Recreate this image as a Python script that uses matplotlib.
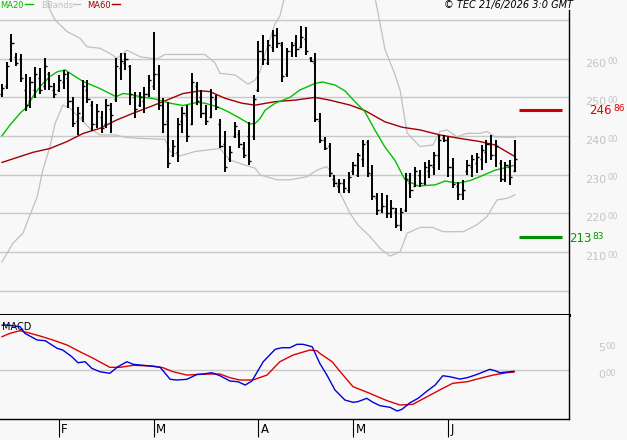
import matplotlib
matplotlib.use("Agg")
import matplotlib.pyplot as plt
import numpy as np
from matplotlib import transforms

# ---- data (bar index = trading day) ----
highs = [253.5, 259.1, 266.3, 261.4, 261.1, 256.0, 255.4, 257.9, 257.5, 260.1,
         256.6, 253.6, 255.8, 257.1, 256.6, 250.2, 247.6, 254.5, 254.5, 249.1,
         248.2, 246.5, 249.6, 248.5, 260.1, 261.4, 261.4, 258.4, 251.5, 251.5,
         252.8, 255.8, 267.0, 258.4, 249.8, 248.9, 239.0, 244.6, 247.6, 248.0,
         256.2, 254.1, 251.9, 248.0, 252.2, 250.6, 244.5, 241.2, 237.5, 243.7,
         241.5, 238.6, 243.7, 250.6, 264.6, 266.1, 264.8, 267.4, 267.9, 264.4,
         262.7, 264.4, 266.1, 268.4, 268.3, 260.5, 261.6, 245.9, 239.8, 238.1,
         230.0, 228.8, 228.8, 230.8, 233.4, 235.6, 239.0, 239.0, 232.5, 225.2,
         225.2, 224.8, 223.5, 221.3, 221.3, 230.5, 230.4, 232.1, 231.2, 233.4,
         233.8, 236.0, 240.3, 240.3, 239.8, 234.3, 228.2, 228.7, 233.8, 235.1,
         235.6, 237.7, 239.0, 240.3, 239.0, 233.8, 233.4, 233.8, 239.0]
lows = [250.1, 252.3, 259.2, 258.2, 254.1, 246.5, 247.2, 249.9, 251.0, 251.9,
        251.9, 249.9, 251.5, 252.3, 247.2, 242.4, 240.3, 243.7, 248.5, 241.2,
        242.0, 240.7, 242.0, 240.7, 248.9, 254.5, 257.1, 248.0, 244.8, 247.6,
        245.9, 250.2, 251.9, 246.7, 240.7, 231.8, 234.7, 233.4, 240.7, 238.6,
        242.9, 248.0, 244.6, 242.9, 244.6, 246.7, 236.8, 230.8, 233.4, 239.4,
        236.8, 234.3, 232.5, 239.0, 251.5, 258.4, 258.4, 261.8, 262.7, 254.1,
        255.4, 260.5, 260.5, 262.7, 261.0, 259.2, 243.7, 238.1, 236.4, 229.5,
        226.9, 225.2, 225.2, 225.2, 230.0, 229.5, 232.1, 229.5, 223.5, 219.6,
        220.0, 218.8, 218.8, 216.2, 215.5, 220.5, 223.9, 226.9, 226.9, 227.4,
        229.1, 230.0, 231.2, 238.6, 229.5, 226.5, 223.5, 223.5, 230.0, 229.5,
        230.4, 231.2, 233.0, 233.8, 232.1, 228.2, 228.2, 227.4, 230.8]
opens = [251.0, 253.0, 260.0, 260.5, 260.0, 252.0, 249.0, 252.0, 255.0, 253.0,
         256.0, 252.0, 252.0, 254.0, 255.0, 249.0, 244.0, 245.0, 252.0, 248.0,
         243.0, 245.0, 243.0, 247.0, 249.5, 257.5, 259.0, 258.0, 250.0, 248.0,
         249.0, 251.0, 253.0, 256.0, 248.0, 244.0, 235.0, 236.0, 244.0, 245.5,
         243.0, 253.0, 250.0, 246.0, 245.0, 249.5, 243.0, 238.0, 234.0, 240.0,
         240.5, 237.0, 240.0, 240.0, 252.0, 262.0, 259.0, 263.0, 266.0, 263.5,
         256.0, 262.0, 264.0, 263.0, 265.0, 260.2, 259.0, 244.0, 239.0, 237.5,
         229.0, 227.0, 228.0, 226.0, 231.0, 230.0, 234.0, 238.5, 230.0, 224.0,
         221.0, 222.0, 220.0, 220.5, 217.0, 221.0, 228.0, 227.0, 230.0, 228.0,
         231.0, 232.0, 235.0, 239.5, 239.0, 232.0, 227.0, 225.0, 231.0, 232.0,
         233.0, 234.0, 236.0, 238.0, 235.0, 233.0, 229.0, 232.0, 231.0]
closes = [252.5, 258.0, 264.0, 259.0, 255.0, 248.0, 254.0, 256.0, 252.0, 258.0,
          253.0, 251.0, 254.5, 256.0, 249.0, 243.5, 246.0, 253.0, 249.5, 243.0,
          246.5, 242.0, 248.0, 245.5, 258.0, 259.5, 260.0, 251.0, 247.0, 250.0,
          251.0, 254.5, 256.0, 248.0, 243.0, 233.0, 237.5, 243.0, 246.0, 240.0,
          254.0, 249.0, 246.0, 244.0, 250.0, 247.5, 237.5, 232.0, 236.0, 242.5,
          238.0, 235.0, 233.5, 249.5, 262.0, 260.0, 263.5, 266.0, 264.0, 255.5,
          262.0, 263.5, 262.5, 265.5, 262.0, 259.5, 244.5, 239.0, 237.0, 230.5,
          228.0, 228.0, 226.5, 229.5, 232.5, 235.0, 238.0, 230.5, 224.5, 221.0,
          222.0, 220.0, 221.5, 217.0, 220.5, 229.0, 226.0, 231.0, 228.0, 232.0,
          232.5, 235.0, 239.0, 239.0, 232.0, 227.5, 225.0, 226.0, 232.5, 234.0,
          234.5, 236.5, 238.0, 235.0, 237.5, 229.0, 232.5, 229.5, 234.0]

ma60_x = [0, 6.5, 10.1, 13.7, 17.1, 20.6, 24.2, 27.6, 31.2, 34.7, 38.1, 41.7,
          43.8, 46.9, 50.5, 53.3, 57.5, 61.7, 65.9, 69, 73.3, 76.4, 80.6, 84.2,
          88, 92.2, 96.4, 100.6, 103.8, 105.9, 108]
ma60_y = [233.2, 235.8, 236.8, 238.6, 240.7, 242.0, 244.2, 245.9, 247.6, 249.3,
          251.0, 251.7, 251.5, 249.8, 248.5, 248.0, 248.9, 249.3, 250.0, 249.3,
          248.0, 246.6, 243.7, 242.3, 241.6, 240.3, 239.4, 238.6, 237.7, 236.2,
          234.7]

ma20_x = [0, 1.7, 3.8, 5.3, 6.5, 8, 10.1, 11.6, 13.3, 14.9, 17.1, 20.6, 24,
          25.5, 26.9, 29.1, 32.2, 35.4, 38.1, 41.1, 42.7, 45.3, 47.6, 50.1,
          52.2, 53.3, 54.3, 55.4, 57.5, 60.6, 62.7, 65.9, 67.4, 70.1, 72.2,
          74.3, 76.4, 78.5, 80.6, 82.7, 84.8, 87.6, 91.2, 93.3, 96, 98.5, 100.6,
          103.8, 105.9, 108]
ma20_y = [240.1, 242.9, 245.9, 247.6, 250.2, 252.8, 255.4, 256.6, 257.1, 255.8,
          254.1, 252.3, 250.2, 251.0, 250.8, 250.2, 249.6, 248.5, 247.9, 248.7,
          248.5, 247.6, 246.3, 244.6, 243.1, 243.3, 244.5, 246.7, 248.5, 250.0,
          251.9, 253.6, 254.0, 253.2, 251.7, 248.9, 246.3, 241.6, 237.2, 233.8,
          228.8, 227.1, 227.4, 228.4, 227.8, 228.5, 229.5, 231.2, 231.8, 232.5]

bb_up_x = [0, 5, 9.6, 10.1, 11.2, 13.7, 16.4, 17.9, 20.6, 22.7, 24.2, 26.3,
           29.1, 32.6, 34.3, 37.5, 42.7, 44.8, 45.9, 49.1, 51.8, 53.3, 54.3,
           55.4, 57.5, 58.5, 59.5, 61, 77, 78.5, 79.3, 80.6, 82.7, 83.8, 85.3,
           88, 90.7, 92.2, 93.7, 95.8, 97.9, 100.6, 102.1, 103.8, 108]
bb_up_y = [285.0, 282.0, 275.5, 272.6, 270.0, 267.0, 265.3, 263.1, 262.7,
           261.4, 260.1, 262.2, 260.5, 259.9, 261.1, 261.1, 261.1, 259.0, 256.2,
           255.8, 253.4, 254.5, 256.6, 261.4, 269.1, 271.0, 276.0, 282.0, 282.0,
           276.0, 271.0, 262.5, 256.0, 251.9, 240.8, 237.3, 237.7, 241.2, 241.6,
           239.8, 240.7, 240.7, 241.2, 239.8, 239.7]

bb_lo_x = [0, 2.3, 4.4, 5.9, 7.4, 8.6, 10.1, 11.2, 12.8, 14.3, 16.4, 18.5,
           20.6, 23.8, 25.9, 29.1, 33.3, 34.3, 35.4, 37.5, 40.6, 45.9, 48,
           51.2, 53.3, 54.3, 57.9, 60.6, 64.2, 66.3, 67.4, 68.4, 69.7, 71.2,
           73.3, 74.9, 77.5, 79.6, 81.7, 83.8, 85.3, 88, 90.7, 92.8, 97.1, 100,
           102.1, 104.2, 106.3, 108]
bb_lo_y = [207.5, 212.3, 214.9, 219.6, 224.3, 231.2, 237.3, 243.3, 248.0,
           247.2, 244.6, 242.0, 240.3, 240.3, 239.7, 239.4, 239.2, 239.2, 236.0,
           234.9, 236.0, 236.8, 233.8, 232.5, 231.7, 230.0, 228.7, 228.7, 229.5,
           231.2, 231.7, 232.1, 230.0, 225.2, 220.0, 217.1, 214.0, 211.0, 209.0,
           210.1, 214.9, 216.4, 216.4, 215.3, 215.3, 217.1, 219.2, 223.5, 223.9,
           224.8]

macd_x = [0, 1.05, 3.8, 4.8, 7.4, 9.1, 11.6, 12.8, 14.7, 16, 17.5, 18.9, 20.6,
          22.7, 24.4, 26.3, 27.6, 31.2, 33.3, 35.4, 36.8, 38.9, 41.1, 42.3,
          44.2, 45.9, 48, 49.7, 51.2, 52.6, 55, 57.5, 58.9, 60.6, 62.1, 63.4,
          65.3, 66.9, 68.4, 70.1, 72.2, 73.9, 74.9, 76.8, 78.1, 79.6, 81.7,
          83.2, 84.2, 85.9, 87.6, 89.5, 91.2, 92.8, 94.3, 96.4, 97.9, 99.2,
          100.6, 102.7, 103.8, 104.8, 106.3, 107.8]
macd_y = [8.3, 8.33, 8.02, 6.8, 5.56, 5.43, 4.02, 3.7, 2.46, 1.35, 1.54, 0.31,
          -0.31, -0.61, 0.61, 1.54, 1.06, 0.74, 0.5, -1.72, -1.85, -1.72, -0.8,
          -0.74, -0.5, -1.06, -2.04, -2.17, -2.78, -2.04, 1.54, 3.83, 4.13,
          4.13, 4.76, 4.76, 4.31, 1.24, -0.93, -3.7, -5.56, -5.98, -5.87, -5.24,
          -5.98, -6.61, -6.91, -7.59, -7.28, -6.06, -5.24, -3.89, -2.78, -1.06,
          -1.24, -1.67, -1.43, -1.06, -0.61, 0.13, -0.13, -0.5, -0.37, -0.24]

signal_x = [0, 1.7, 3.8, 5.5, 8, 10.7, 13.7, 16.4, 19.2, 22.7, 24.8, 27.6,
            31.8, 33.9, 36, 38.9, 43.2, 45.9, 48, 50.1, 52.8, 55.8, 58.5, 61.3,
            64.8, 66.3, 66.9, 69.5, 71.2, 73.9, 77.1, 81.1, 83.8, 86.5, 89.5,
            92.8, 94.9, 97.9, 100.6, 103.4, 106.3, 107.8]
signal_y = [6.17, 6.8, 7.28, 6.91, 6.3, 5.56, 4.63, 3.39, 2.17, 0.5, 0.5, 0.87,
            0.74, 0.43, -0.31, -0.93, -0.74, -0.74, -1.43, -1.85, -1.85, -0.93,
            1.54, 2.78, 3.7, 3.57, 3.09, 1.54, -0.31, -3.09, -4.2, -5.69, -6.48,
            -6.35, -4.94, -3.39, -2.46, -2.17, -1.54, -0.93, -0.5, -0.37]

price_grid = [270, 260, 250, 240, 230, 220, 210, 200]
price_labels = [260, 250, 240, 230, 220, 210]
macd_labels = [5, 0]
month_idx = [12, 32, 54, 74, 94]
month_names = ["F", "M", "A", "M", "J"]
resistance = 246.86
support = 213.83

# ---- style ----
BG = "#f8f8f8"
GRID = "#c8c8c8"
LBL = "#c4c4c4"
GREEN = "#00c000"
DRED = "#a00000"
BAND = "#c0c0c0"

W, H = 627, 440
fig = plt.figure(figsize=(W / 100, H / 100), dpi=100, facecolor=BG)


def fx(px):
    return px / W


def fy(py):
    return 1 - py / H


ax1 = fig.add_axes([0, fy(315), fx(569), 315 / H])
ax2 = fig.add_axes([0, fy(419), fx(569), 104 / H])

for ax in (ax1, ax2):
    ax.set_facecolor(BG)
    ax.set_xlim(-0.42, 119.37)
    ax.set_yticks([])
    ax.spines["left"].set_visible(False)
    ax.spines["top"].set_visible(False)
    ax.spines["right"].set_linewidth(1.0)

ax1.set_ylim(193.77, 275.17)
ax2.set_ylim(-9.07, 10.19)
ax1.set_xticks([])
ax1.spines["bottom"].set_linewidth(2.2)
ax1.spines["right"].set_bounds(193.77, 272.6)
ax2.spines["bottom"].set_linewidth(1.0)

# grid
for g in price_grid:
    ax1.axhline(g, color=GRID, lw=1.0, zorder=1)
ax2.axhline(0, color=GRID, lw=1.0, zorder=1)

# indicators
ax1.plot(bb_up_x, bb_up_y, color=BAND, lw=0.9, zorder=2, clip_on=False)
ax1.plot(bb_lo_x, bb_lo_y, color=BAND, lw=0.9, zorder=2)
ax1.plot(ma60_x, ma60_y, color=DRED, lw=1.0, zorder=3)
ax1.plot(ma20_x, ma20_y, color=GREEN, lw=1.0, zorder=3)

# OHLC bars
x = np.arange(len(highs))
ax1.vlines(x, lows, highs, color="black", lw=1.4, zorder=4)
ax1.hlines(opens, x - 0.45, x, color="black", lw=1.0, zorder=4)
ax1.hlines(closes, x, x + 0.45, color="black", lw=1.0, zorder=4)

# support / resistance markers
ax1.hlines(resistance, 108.8, 117.9, color="#cc0000", lw=2.2, zorder=4)
ax1.hlines(support, 108.8, 117.9, color="#009000", lw=2.2, zorder=4)

# price labels on the right
ptrans = transforms.blended_transform_factory(fig.transFigure, ax1.transData)
big_t = transforms.offset_copy(ptrans, fig=fig, x=0, y=-5, units="dots")
small_t = transforms.offset_copy(ptrans, fig=fig, x=0, y=-3, units="dots")
for p in price_labels:
    ax1.text(fx(606), p, f"{p}", transform=big_t, ha="right", va="center",
             fontsize=8, color=LBL)
    ax1.text(fx(607), p, "00", transform=small_t, ha="left", va="center",
             fontsize=6, color=LBL)

lv_big = transforms.offset_copy(ptrans, fig=fig, x=0, y=-1, units="dots")
lv_small = transforms.offset_copy(ptrans, fig=fig, x=0, y=1, units="dots")
r_int, r_dec = f"{resistance:.2f}".split(".")
s_int, s_dec = f"{support:.2f}".split(".")
ax1.text(fx(612), resistance, r_int, transform=lv_big, ha="right", va="center",
         fontsize=8.5, color="#dd0000")
ax1.text(fx(613), resistance, r_dec, transform=lv_small, ha="left",
         va="center", fontsize=6.5, color="#dd0000")
ax1.text(fx(591), support, s_int, transform=lv_big, ha="right", va="center",
         fontsize=8.5, color="#009900")
ax1.text(fx(592), support, s_dec, transform=lv_small, ha="left", va="center",
         fontsize=6.5, color="#009900")

# MACD panel
ax2.plot(signal_x, signal_y, color="#dd0000", lw=1.0, zorder=3)
ax2.plot(macd_x, macd_y, color="#0000dd", lw=1.0, zorder=3)
mtrans = transforms.blended_transform_factory(fig.transFigure, ax2.transData)
mbig = transforms.offset_copy(mtrans, fig=fig, x=0, y=-5, units="dots")
msmall = transforms.offset_copy(mtrans, fig=fig, x=0, y=-3, units="dots")
for m in macd_labels:
    ax2.text(fx(605), m, f"{m}", transform=mbig, ha="right", va="center",
             fontsize=8, color=LBL)
    ax2.text(fx(606), m, "00", transform=msmall, ha="left", va="center",
             fontsize=6, color=LBL)
ax2.text(fx(2), fy(327), "MACD", transform=fig.transFigure, ha="left",
         va="center", fontsize=7, color="black")

# month ticks
ax2.set_xticks(month_idx)
ax2.tick_params(axis="x", direction="out", length=13, width=0.8,
                color="black", labelbottom=False)
ltrans = transforms.offset_copy(ax2.get_xaxis_transform(), fig=fig,
                                x=2, y=-10, units="dots")
for i, name in zip(month_idx, month_names):
    ax2.text(i, 0, name, transform=ltrans, ha="left", va="center",
             fontsize=8.5, color="black")

# legend across the top
fig.text(fx(0), fy(5), "MA20", ha="left", va="center", fontsize=6,
         color=GREEN)
fig.add_artist(plt.Line2D([fx(25), fx(33)], [fy(4.5), fy(4.5)], color=GREEN,
                          lw=1.0))
fig.text(fx(41), fy(5), "BBands", ha="left", va="center", fontsize=6,
         color=BAND)
fig.add_artist(plt.Line2D([fx(73), fx(80)], [fy(4.5), fy(4.5)], color=BAND,
                          lw=1.0))
fig.text(fx(87), fy(5), "MA60", ha="left", va="center", fontsize=6,
         color=DRED)
fig.add_artist(plt.Line2D([fx(112), fx(120)], [fy(4.5), fy(4.5)], color=DRED,
                          lw=1.0))
fig.text(fx(573), fy(5), "\u00a9 TEC 21/6/2026 3:0 GMT", ha="right",
         va="center", fontsize=7, style="italic", color="black")

fig.savefig("out.png", dpi=100, facecolor=BG)
